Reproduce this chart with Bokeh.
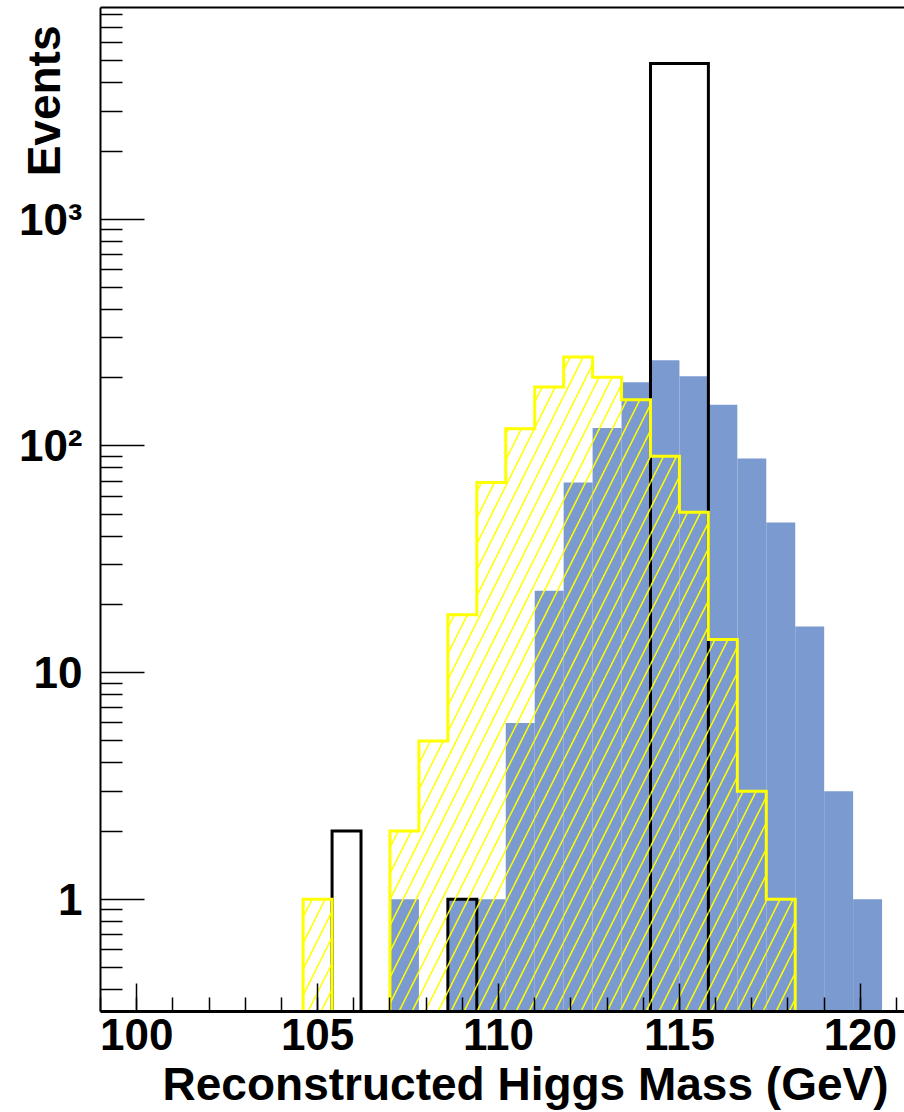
import numpy as np
from bokeh.plotting import figure
from bokeh.models import (FixedTicker, CustomJSTickFormatter, LinearAxis,
                          Range1d, ColumnDataSource, Title)
from bokeh.embed import file_html
from bokeh.resources import INLINE

# ---------------- data ----------------
# 30 bins of 0.8 GeV from 99.0 to 123.0 GeV
bin_edges = [round(99.0 + 0.8 * i, 1) for i in range(31)]

# blue filled histogram
blue_counts = [0, 0, 0, 0, 0, 0, 0, 0, 0, 0,
               1, 0, 1, 1, 6, 23, 69, 120, 191, 239,
               203, 152, 88, 46, 16, 3, 1, 0, 0, 0]
# yellow hatched histogram
yellow_counts = [0, 0, 0, 0, 0, 0, 0, 1, 0, 0,
                 2, 5, 18, 69, 119, 182, 247, 201, 160, 90,
                 51, 14, 3, 1, 0, 0, 0, 0, 0, 0]
# black outline histogram
black_counts = [0, 0, 0, 0, 0, 0, 0, 0, 2, 0,
                0, 0, 1, 0, 0, 0, 0, 0, 0, 4870,
                4870, 0, 0, 0, 0, 0, 0, 0, 0, 0]

x_ticks = [100, 105, 110, 115, 120]
x_minor_ticks = list(range(99, 122))
y_ticks = [1, 10, 100, 1000]
y_tick_labels = ["1", "10", "10\u00b2", "10\u00b3"]
y_minor_ticks = ([0.4, 0.5, 0.6, 0.7, 0.8, 0.9] + [2, 3, 4, 5, 6, 7, 8, 9] +
                 [20, 30, 40, 50, 60, 70, 80, 90] +
                 [200, 300, 400, 500, 600, 700, 800, 900] +
                 [2000, 3000, 4000, 5000, 6000, 7000, 8000])

x_title = "Reconstructed Higgs Mass (GeV)"
y_title = "Events"

FLOOR = 1e-3  # drawing floor for empty bins on the log axis
FONT = "Liberation Sans"

BLUE = "#7b9ad0"
YELLOW = "#ffff00"


def quads(counts):
    left, right, top = [], [], []
    for i, c in enumerate(counts):
        if c > 0:
            left.append(bin_edges[i])
            right.append(bin_edges[i + 1])
            top.append(c)
    return ColumnDataSource(dict(left=left, right=right, top=top,
                                 bottom=[FLOOR] * len(top)))


def step_path(counts):
    xs, ys = [], []
    for i, c in enumerate(counts):
        v = c if c > 0 else FLOOR
        xs += [bin_edges[i], bin_edges[i + 1]]
        ys += [v, v]
    return xs, ys


p = figure(width=904, height=1112, output_backend="svg", toolbar_location=None,
           y_axis_type="log",
           x_range=Range1d(99.0, 121.22), y_range=Range1d(0.32, 8600),
           min_border_left=100, min_border_right=0, min_border_top=7,
           min_border_bottom=100)
p.outline_line_color = None
p.grid.visible = False
p.background_fill_color = "white"
p.border_fill_color = "white"

# blue filled histogram
p.quad(left="left", right="right", top="top", bottom="bottom",
       source=quads(blue_counts), fill_color=BLUE, line_color=None)

# black outline histogram
bx, by = step_path(black_counts)
p.line(bx, by, line_color="black", line_width=3, line_join="miter")

# yellow hatched histogram
p.quad(left="left", right="right", top="top", bottom="bottom",
       source=quads(yellow_counts), fill_alpha=0, line_color=None,
       hatch_pattern="/", hatch_color=YELLOW, hatch_scale=26, hatch_weight=1.5)
yx, yy = step_path(yellow_counts)
p.line(yx, yy, line_color=YELLOW, line_width=3, line_join="miter")

# x axis
xa = p.xaxis[0]
xa.ticker = FixedTicker(ticks=x_ticks, minor_ticks=x_minor_ticks)
xa.major_tick_in = 28
xa.major_tick_out = 0
xa.minor_tick_in = 14
xa.minor_tick_out = 0
xa.major_tick_line_color = "black"
xa.minor_tick_line_color = "black"
xa.major_tick_line_width = 1.5
xa.minor_tick_line_width = 1.5
xa.axis_line_color = "black"
xa.axis_line_width = 3
xa.major_label_text_font = FONT
xa.major_label_text_font_style = "bold"
xa.major_label_text_font_size = "44px"
xa.major_label_text_color = "black"
xa.major_label_standoff = 7

# y axis
ya = p.yaxis[0]
ya.ticker = FixedTicker(ticks=y_ticks, minor_ticks=y_minor_ticks)
ya.formatter = CustomJSTickFormatter(
    args=dict(tick_vals=y_ticks, tick_texts=y_tick_labels),
    code="""
    for (let i = 0; i < tick_vals.length; i++) {
        if (Math.abs(tick - tick_vals[i]) < 1e-6 * tick_vals[i]) return tick_texts[i];
    }
    return '';
    """)
ya.major_tick_in = 44
ya.major_tick_out = 0
ya.minor_tick_in = 22
ya.minor_tick_out = 0
ya.major_tick_line_color = "black"
ya.minor_tick_line_color = "black"
ya.major_tick_line_width = 1.5
ya.minor_tick_line_width = 1.5
ya.axis_line_color = "black"
ya.axis_line_width = 2
ya.major_label_text_font = FONT
ya.major_label_text_font_style = "bold"
ya.major_label_text_font_size = "44px"
ya.major_label_text_color = "black"
ya.major_label_standoff = 18

# top frame line
top_axis = LinearAxis(ticker=FixedTicker(ticks=[]), major_tick_in=0,
                      major_tick_out=0, minor_tick_in=0, minor_tick_out=0,
                      axis_line_color="black", axis_line_width=2,
                      major_label_text_font_size="0px")
p.add_layout(top_axis, "above")

# axis titles, ROOT style (right / top aligned)
p.add_layout(Title(text=x_title, align="right", offset=16, standoff=6,
                   vertical_align="bottom", text_font=FONT,
                   text_font_style="bold", text_font_size="46px",
                   text_color="black"), "below")
p.add_layout(Title(text=y_title, align="right", offset=18, standoff=-108,
                   vertical_align="bottom", text_font=FONT,
                   text_font_style="bold", text_font_size="46px",
                   text_color="black"), "left")

open("out.html", "w").write(file_html(p, INLINE))
